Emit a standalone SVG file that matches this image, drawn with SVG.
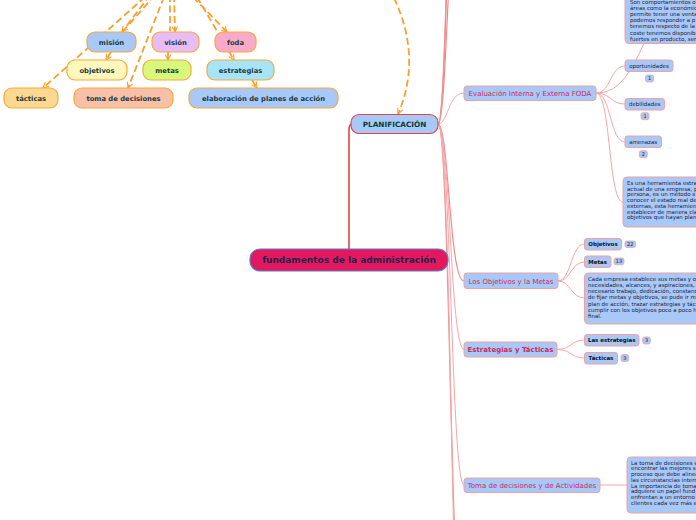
<svg xmlns="http://www.w3.org/2000/svg" width="696" height="520" viewBox="0 0 696 520">
<style>
text{font-family:"DejaVu Sans","Verdana",sans-serif}
.dash{fill:none;stroke:#f9a02c;stroke-width:1.8;stroke-dasharray:7 3.5}
.top rect{stroke:#f8a83a;stroke-width:1.2}
.top text{font-size:6.8px;font-weight:bold;fill:#1b3b3b;text-anchor:middle}
.sec rect{fill:#a8c8f8;stroke:#f2a0a0;stroke-width:1}
.sec text{font-size:7px;fill:#cc2a5a;text-anchor:middle}
.sub rect{fill:#a8c8f8;stroke:#f2a0a0;stroke-width:1}
.sub text{font-size:5.5px;fill:#22223a;text-anchor:middle}
.sub text.b{font-weight:bold;fill:#111}
.badge rect{fill:#a8c8f8;stroke:#f2a0a0;stroke-width:0.8}
.badge text{font-size:5px;fill:#22223a;text-anchor:middle}
.box rect{fill:#a8c8f8;stroke:#f2a0a0;stroke-width:1}
.box text{font-size:5.5px;fill:#22223a}
.lk{fill:none;stroke:#f6a6a6;stroke-width:1}
.lkr{fill:none;stroke:#f08a8a;stroke-width:1.2}
</style>
<defs>
<marker id="ar" viewBox="0 0 10 10" refX="9" refY="5" markerWidth="7" markerHeight="7" orient="auto" markerUnits="userSpaceOnUse">
<path d="M1,1 L9,5 L1,9" fill="none" stroke="#f9a02c" stroke-width="1.6" stroke-dasharray="none"/>
</marker>
</defs>
<g id="connectors">
<path class="dash" d="M150,-5 L122,32" marker-end="url(#ar)"/>
<path class="dash" d="M155,-5 L125,29"/>
<path class="dash" d="M145,-3 L43,88" marker-end="url(#ar)"/>
<path class="dash" d="M164,-3 L128,88" marker-end="url(#ar)"/>
<path class="dash" d="M170,-5 L170,31"/>
<path class="dash" d="M174,-5 L175,32" marker-end="url(#ar)"/>
<path class="dash" d="M193,-3 L227,32" marker-end="url(#ar)"/>
<path class="dash" d="M197,-3 L234,60" marker-end="url(#ar)"/>
<path class="dash" d="M111,52 L106,60" marker-end="url(#ar)"/>
<path class="dash" d="M168,52 L168,60" marker-end="url(#ar)"/>
<path class="dash" d="M252,80 L257,88" marker-end="url(#ar)"/>
<path class="dash" d="M394,-2 C414,40 413,80 398,114" marker-end="url(#ar)"/>
<path d="M349,249 L349,130 Q349,124 352,124" fill="none" stroke="#e03a3a" stroke-width="1.5"/>
<path class="lkr" d="M438,124 C448,124 448,-150 464,-150"/>
<path class="lk" d="M438,124 C447,124 447,-250 464,-250"/>
<path class="lk" d="M438,124 C449,124 449,-350 464,-350"/>
<path class="lkr" d="M438,124 C450,124 450,-450 464,-450"/>
<path class="lk" d="M438,124 C448,124 448,93 464,93"/>
<path class="lkr" d="M438,124 C449,124 449,281 464,281"/>
<path class="lk" d="M438,124 C450,124 450,349.5 464,349.5"/>
<path class="lk" d="M438,124 C451,124 451,485 464,485"/>
<path class="lkr" d="M438,124 C450,124 450,640 464,640"/>
<path class="lk" d="M438,124 C452,124 452,760 464,760"/>
<path class="lk" d="M596,93 C611,93 610,66 625,66"/>
<path class="lk" d="M596,93 C615,93 628,80 644,43"/>
<path class="lk" d="M596,93 C611,93 610,104 625,104"/>
<path class="lk" d="M596,93 C611,93 610,142 625,142"/>
<path class="lk" d="M596,93 C611,93 608,202 623,202"/>
<path class="lk" d="M558,281 C571,281 571,244 584.5,244"/>
<path class="lk" d="M558,281 C571,281 571,262 584.5,262"/>
<path class="lk" d="M558,281 C571,281 571,298 584.5,298"/>
<path class="lk" d="M557,349.5 C571,349.5 571,340 584.5,340"/>
<path class="lk" d="M557,349.5 C571,349.5 571,358 584.5,358"/>
<path class="lk" d="M600,485 L627,485"/>
</g>
<g id="root">
<rect x="250" y="249" width="198" height="22" rx="10" fill="#e2195f" stroke="#5a7fc0" stroke-width="1.2"/>
<text x="349" y="263.2" font-size="9" font-weight="bold" fill="#1e2050" text-anchor="middle">fundamentos de la administración</text>
</g>
<g id="planificacion">
<rect x="351" y="114.5" width="87" height="19" rx="8" fill="#a8c8f8" stroke="#e04848" stroke-width="1.2"/>
<text x="394.5" y="126.7" font-size="7.3" font-weight="bold" fill="#0b3d33" text-anchor="middle">PLANIFICACIÓN</text>
</g>
<g id="mision" class="top"><rect x="87" y="32" width="49" height="20" rx="8" fill="#a8c8f8"/><text x="111.5" y="44.5">misión</text></g>
<g id="vision" class="top"><rect x="152" y="32" width="47" height="20" rx="8" fill="#e8bcf8"/><text x="175.5" y="44.5">visión</text></g>
<g id="foda" class="top"><rect x="215" y="32" width="41" height="20" rx="8" fill="#f8aac8"/><text x="235.5" y="44.5">foda</text></g>
<g id="objetivos" class="top"><rect x="67" y="60" width="60" height="20" rx="8" fill="#fff8bc"/><text x="97" y="72.5">objetivos</text></g>
<g id="metas" class="top"><rect x="143" y="60" width="48" height="20" rx="8" fill="#d8f87c"/><text x="167" y="72.5">metas</text></g>
<g id="estrategias" class="top"><rect x="207" y="60" width="67" height="20" rx="8" fill="#a8e4f8"/><text x="240.5" y="72.5">estrategias</text></g>
<g id="tacticas" class="top"><rect x="4" y="88" width="54" height="20" rx="8" fill="#fcd890"/><text x="31" y="100.5">tácticas</text></g>
<g id="toma" class="top"><rect x="74" y="88" width="99" height="20" rx="8" fill="#f8c0a8"/><text x="123.5" y="100.5">toma de decisiones</text></g>
<g id="elaboracion" class="top"><rect x="189" y="88" width="149" height="20" rx="8" fill="#a8c8f8"/><text x="263.5" y="100.5">elaboración de planes de acción</text></g>

<g id="sec-foda" class="sec"><rect x="464" y="86" width="132" height="14.5" rx="3"/><text x="530" y="95.6">Evaluación Interna y Externa FODA</text></g>
<g id="sec-obj" class="sec"><rect x="464" y="273" width="94" height="15.5" rx="3"/><text x="511" y="283.5">Los Objetivos y la Metas</text></g>
<g id="sec-est" class="sec"><rect x="464" y="342" width="93" height="15" rx="3"/><text x="510.5" y="352" font-weight="bold" fill="#d0103a">Estrategias y Tácticas</text></g>
<g id="sec-toma" class="sec"><rect x="464" y="478" width="136" height="14.5" rx="3"/><text x="532" y="487.6">Toma de decisiones y de Actividades</text></g>

<g id="fortalezas" class="box"><rect x="625" y="-10" width="80" height="53.5" rx="4"/>
<text x="630" y="3.5">Son comportamientos o</text>
<text x="630" y="9.7">áreas como la económic</text>
<text x="630" y="15.9">permite tener una venta</text>
<text x="630" y="22.1">podemos responder a p</text>
<text x="630" y="28.3">tenemos respecto de la</text>
<text x="630" y="34.5">coste tenemos disponib</text>
<text x="630" y="40.7">fuertes en producto, ser</text>
</g>
<g id="oportunidades" class="sub"><rect x="625" y="60" width="48" height="11.5" rx="2.5"/><text x="649" y="67.8">oportunidades</text></g>
<g id="b-op" class="badge"><rect x="645.5" y="75" width="8" height="7" rx="2"/><text x="649.5" y="80.4">1</text></g>
<g id="debilidades" class="sub"><rect x="625" y="98.5" width="39.5" height="11.5" rx="2.5"/><text x="644.7" y="106.2">debilidades</text></g>
<g id="b-deb" class="badge"><rect x="641" y="112.7" width="8" height="7" rx="2"/><text x="645" y="118.1">1</text></g>
<g id="amenazas" class="sub"><rect x="625" y="136" width="36.5" height="11.5" rx="2.5"/><text x="643.2" y="143.8">amenazas</text></g>
<g id="b-am" class="badge"><rect x="639.3" y="150.7" width="8" height="7" rx="2"/><text x="643.3" y="156.1">2</text></g>
<g id="foda-desc" class="box"><rect x="623" y="177" width="80" height="50" rx="4"/>
<text x="627" y="185">Es una herramienta estra</text>
<text x="627" y="190.7">actual de una empresa, p</text>
<text x="627" y="196.4">persona, es un método s</text>
<text x="627" y="202.1">conocer el estado real de</text>
<text x="627" y="207.8">externas, esta herramien</text>
<text x="627" y="213.5">establecer de manera cla</text>
<text x="627" y="219.2">objetivos que hayan plan</text>
</g>

<g id="sub-objetivos" class="sub"><rect x="584.5" y="238.5" width="37" height="11.5" rx="2.5"/><text class="b" x="603" y="246.3">Objetivos</text></g>
<g id="b-objetivos" class="badge"><rect x="625" y="241" width="10.5" height="6.5" rx="2"/><text x="630.2" y="246">22</text></g>
<g id="sub-metas" class="sub"><rect x="584.5" y="256" width="26.5" height="11.5" rx="2.5"/><text class="b" x="597.7" y="263.8">Metas</text></g>
<g id="b-metas" class="badge"><rect x="614" y="258" width="10" height="6.7" rx="2"/><text x="619" y="263.1">13</text></g>
<g id="obj-desc" class="box"><rect x="584.5" y="273" width="120" height="51" rx="4"/>
<text x="588" y="280.5">Cada empresa establece sus metas y o</text>
<text x="588" y="286.8">necesidades, alcances, y aspiraciones,</text>
<text x="588" y="293.1">necesario trabajo, dedicación, constanc</text>
<text x="588" y="299.4">de fijar metas y objetivos, se pude ir m</text>
<text x="588" y="305.7">plan de acción, trazar estrategias y tác</text>
<text x="588" y="312">cumplir con los objetivos poco a poco h</text>
<text x="588" y="318.3">final.</text>
</g>

<g id="sub-estrategias" class="sub"><rect x="584.5" y="334.5" width="54.5" height="11.5" rx="2.5"/><text class="b" x="611.7" y="342.2">Las estrategias</text></g>
<g id="b-est" class="badge"><rect x="642.7" y="337" width="7.6" height="7" rx="2"/><text x="646.5" y="342.4">3</text></g>
<g id="sub-tacticas" class="sub"><rect x="584.5" y="352.5" width="33" height="11.5" rx="2.5"/><text class="b" x="601" y="360.2">Tácticas</text></g>
<g id="b-tac" class="badge"><rect x="621" y="354.5" width="7.6" height="7" rx="2"/><text x="624.8" y="359.9">3</text></g>

<g id="toma-desc" class="box"><rect x="627" y="457" width="80" height="56" rx="4"/>
<text x="631" y="464.7">La toma de decisiones e</text>
<text x="631" y="470.4">encontrar las mejores s</text>
<text x="631" y="476.1">proceso que debe alinea</text>
<text x="631" y="481.8">las circunstancias intern</text>
<text x="631" y="487.5">La importancia de toma</text>
<text x="631" y="493.2">adquiere un papel fund</text>
<text x="631" y="498.9">enfrentan a un entorno</text>
<text x="631" y="504.6">clientes cada vez más e</text>
</g>
</svg>
